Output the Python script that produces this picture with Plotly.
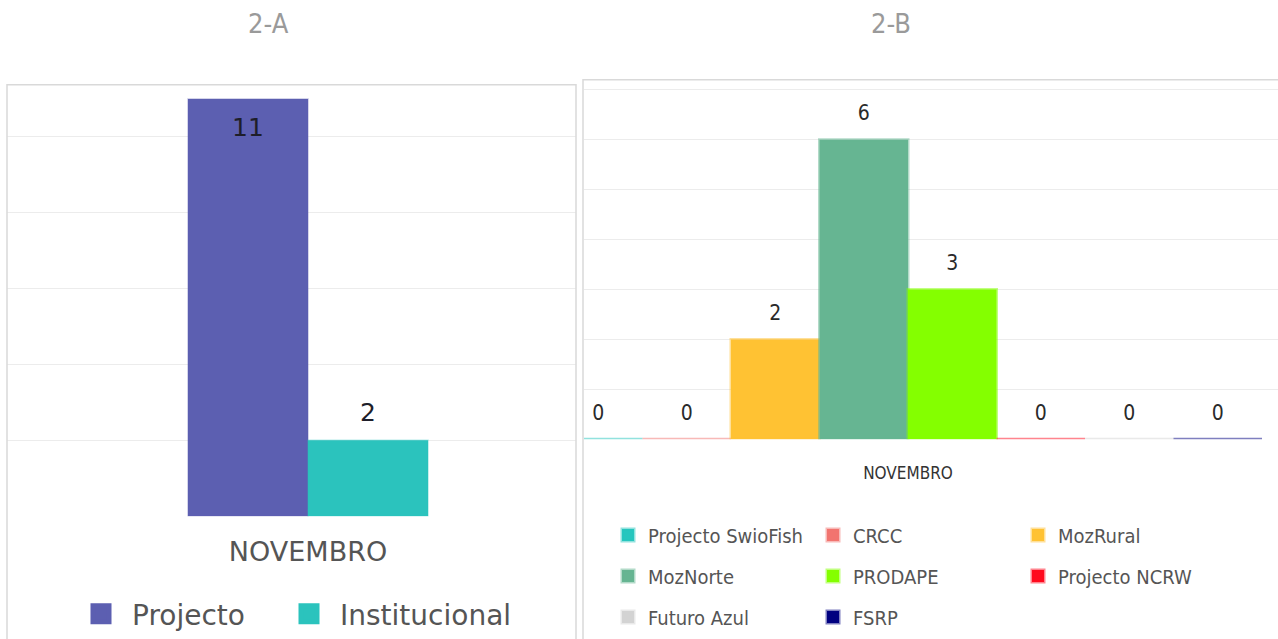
import plotly.graph_objects as go

# ---------------- data ----------------
month = ["NOVEMBRO"]

a_series = ["Projecto", "Institucional"]
a_values = [11, 2]
a_colors = ["#5C5FB1", "#2BC3BD"]

b_series = ["Projecto SwioFish", "CRCC", "MozRural", "MozNorte",
            "PRODAPE", "Projecto NCRW", "Futuro Azul", "FSRP"]
b_values = [0, 0, 2, 6, 3, 0, 0, 0]
b_colors = ["#26C6BE", "#F2746F", "#FFC233", "#66B592",
            "#84FF00", "#FF0A1E", "#D3D3D3", "#000080"]

titles = ["2-A", "2-B"]

# ---------------- layout helpers ----------------
W, H = 1278, 639
def px(x):
    return x / W
def py(y):
    return 1 - y / H

def rgba(hexc, a):
    h = hexc.lstrip("#")
    r, g, b = int(h[0:2], 16), int(h[2:4], 16), int(h[4:6], 16)
    return f"rgba({r},{g},{b},{a})"

COND = "Liberation Sans Narrow, DejaVu Sans Condensed, Arial Narrow, sans-serif"
WIDE = "DejaVu Sans, Verdana, sans-serif"

fig = go.Figure()

# ---------------- chart 2-A ----------------
a_textpos = ["bottom center", "top center"]   # label inside top / above bar
a_textpad = [28, 20]                          # invisible marker size = label offset
a_legwidth = [141, 220]
for name, val, col, tpos, pad, lw in zip(a_series, a_values, a_colors,
                                          a_textpos, a_textpad, a_legwidth):
    fig.add_trace(go.Bar(
        x=month, y=[val], name=name, showlegend=False, offsetgroup=name,
        marker=dict(color=col, line=dict(color=rgba(col, 0.35), width=1.5)),
        textposition="none", hoverinfo="skip",
        xaxis="x", yaxis="y",
    ))
    fig.add_trace(go.Scatter(
        x=month, y=[val], mode="markers+text", showlegend=False, offsetgroup=name,
        text=[str(val)], textposition=tpos,
        textfont=dict(family=WIDE, size=25, color="#1e1e2a"),
        marker=dict(size=pad, color="rgba(0,0,0,0)"), hoverinfo="skip",
        cliponaxis=False, xaxis="x", yaxis="y",
    ))
    fig.add_trace(go.Scatter(
        x=[None], y=[None], name=name, mode="markers", offsetgroup=name,
        marker=dict(symbol="square", size=16, color=col, line=dict(color=col, width=5)),
        legend="legend", legendwidth=lw, xaxis="x", yaxis="y",
    ))

# ---------------- chart 2-B ----------------
legend_rows = ["legend2", "legend2", "legend2",
               "legend3", "legend3", "legend3",
               "legend4", "legend4"]
for name, val, col, lg in zip(b_series, b_values, b_colors, legend_rows):
    fig.add_trace(go.Bar(
        x=month, y=[val], name=name, legend=lg, offsetgroup=name,
        marker=dict(color=col, line=dict(color=rgba(col, 0.5), width=3)),
        textposition="none", hoverinfo="skip",
        xaxis="x2", yaxis="y2",
    ))
    fig.add_trace(go.Scatter(
        x=month, y=[val], mode="markers+text", showlegend=False, offsetgroup=name,
        text=[str(val)], textposition="top center",
        textfont=dict(family=COND, size=21, color="#2a2a2a"),
        marker=dict(size=21, color="rgba(0,0,0,0)"), hoverinfo="skip",
        cliponaxis=False, xaxis="x2", yaxis="y2",
    ))

grid = "#ececec"
leg_common = dict(orientation="h", xanchor="left", yanchor="middle",
                  entrywidth=160, entrywidthmode="pixels",
                  font=dict(family=COND, size=20, color="#555"),
                  bgcolor="rgba(0,0,0,0)")
fig.update_layout(
    width=W, height=H,
    margin=dict(l=0, r=0, t=0, b=0),
    paper_bgcolor="white", plot_bgcolor="white",
    barmode="group", bargap=0.2, bargroupgap=0,
    scattermode="group", scattergap=0.2,
    showlegend=True,
    xaxis=dict(domain=[px(7), px(576)], type="category",
               range=[-1.0033, 0.8933], showgrid=False, zeroline=False,
               showline=False, ticks="", ticklabelstandoff=17,
               tickfont=dict(family=WIDE, size=27, color="#555")),
    yaxis=dict(domain=[py(517), py(85)], range=[0, 11.37], dtick=2,
               showticklabels=False, gridcolor=grid, zeroline=False,
               showline=False),
    xaxis2=dict(domain=[px(584), 1.0], type="category", anchor="y2",
                range=[-0.3661, 0.4181], showgrid=False, zeroline=False,
                showline=False, ticks="", ticklabelstandoff=22,
                tickfont=dict(family=COND, size=17, color="#333")),
    yaxis2=dict(domain=[py(440), py(80)], range=[0, 7.2], dtick=1,
                anchor="x2", showticklabels=False, gridcolor=grid,
                zeroline=False, showline=False),
    legend=dict(orientation="h", x=px(70), xanchor="left", y=py(615),
                yanchor="middle", itemwidth=52, itemsizing="trace",
                entrywidthmode="pixels",
                font=dict(family=WIDE, size=28, color="#555"),
                bgcolor="rgba(0,0,0,0)"),
    legend2=dict(x=px(608), y=py(535), **leg_common),
    legend3=dict(x=px(608), y=py(576), **leg_common),
    legend4=dict(x=px(608), y=py(617), **leg_common),
    shapes=[
        dict(type="rect", xref="paper", yref="paper",
             x0=px(7), x1=px(576), y0=-0.05, y1=py(85),
             line=dict(color="#d9d9d9", width=1.5), fillcolor="rgba(0,0,0,0)",
             layer="above"),
        dict(type="rect", xref="paper", yref="paper",
             x0=px(583), x1=1.05, y0=-0.05, y1=py(80),
             line=dict(color="#d9d9d9", width=1.5), fillcolor="rgba(0,0,0,0)",
             layer="above"),
    ],
    annotations=[
        dict(text=titles[0], xref="paper", yref="paper", x=px(268), y=py(24),
             xanchor="center", yanchor="middle", showarrow=False,
             font=dict(family=COND, size=27, color="#9a9a9a")),
        dict(text=titles[1], xref="paper", yref="paper", x=px(891), y=py(24),
             xanchor="center", yanchor="middle", showarrow=False,
             font=dict(family=COND, size=27, color="#9a9a9a")),
    ],
)

fig.write_html("out.html", config={"displayModeBar": False},
               post_script="document.body.style.margin='0px';")
